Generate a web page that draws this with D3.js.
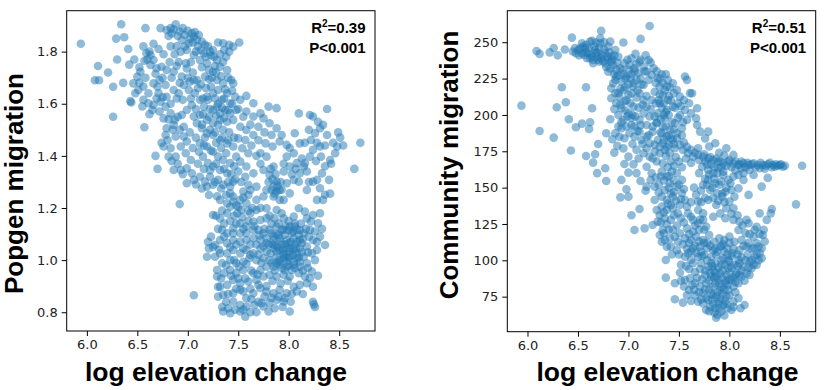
<!DOCTYPE html>
<html><head><meta charset="utf-8">
<script src="https://cdn.jsdelivr.net/npm/d3@7"></script>
<style>body{margin:0;background:#fff}svg{display:block}</style>
</head><body>
<svg id="c" width="826" height="390"></svg>
<script>
// ---- data: [log elevation change, migration] ----
const popgenPoints = [
[5.94,1.83],[6.34,1.905],[6.29,1.85],[6.37,1.855],[6.11,1.745],[6.08,1.69],[6.12,1.69],[6.21,1.72],[6.26,1.665],[6.30,1.77],
[6.26,1.55],[6.41,1.81],[6.36,1.68],[6.42,1.75],[6.47,1.77],[6.57,1.51],[6.43,1.61],[6.44,1.605],[6.58,1.89],[6.73,1.89],
[6.83,1.89],[6.84,1.87],[7.51,1.835],[6.68,1.40],[6.70,1.35],[6.92,1.215],[7.06,0.865],[8.71,1.45],[8.65,1.35],[8.38,1.58],
[8.54,1.44],[8.49,1.49],[8.51,1.47],[8.42,1.37],[8.41,1.255],[8.26,0.82],[8.25,0.83],[8.24,0.84],
[6.79,1.883],[6.86,1.886],[6.92,1.877],[6.97,1.864],[7.04,1.87],[7.06,1.858],[7.09,1.845],[7.14,1.838],[7.20,1.82],[7.30,1.835],
[7.41,1.826],[7.36,1.806],[7.25,1.806],[7.16,1.794],[7.01,1.832],[6.94,1.845],[6.89,1.82],[6.83,1.82],[6.99,1.806],[7.06,1.787],
[7.12,1.768],[7.19,1.755],[7.29,1.768],[7.32,1.742],[7.25,1.723],[7.17,1.704],[7.09,1.691],[7.02,1.685],[6.94,1.704],[6.86,1.723],
[6.79,1.73],[6.74,1.742],[6.69,1.736],[6.63,1.749],[6.59,1.794],[6.63,1.787],[6.56,1.82],[6.66,1.768],[6.53,1.723],[6.50,1.704],
[6.46,1.678],[6.51,1.653],[6.56,1.666],[6.61,1.64],[6.66,1.678],[6.72,1.691],[6.78,1.672],[6.71,1.64],[6.79,1.627],[6.86,1.653],
[6.91,1.64],[6.96,1.672],[7.01,1.653],[7.07,1.64],[7.12,1.615],[7.04,1.595],[6.99,1.576],[6.94,1.557],[6.87,1.538],[6.83,1.563],
[6.78,1.589],[6.73,1.608],[6.66,1.595],[6.61,1.602],[6.56,1.615],[6.65,1.576],[6.76,1.544],[6.79,1.506],[6.86,1.519],[6.78,1.48],
[6.88,1.474],[6.96,1.512],[6.96,1.474],[6.99,1.455],[6.93,1.436],[6.83,1.429],[6.76,1.436],[6.81,1.397],[6.88,1.397],[6.98,1.41],
[7.03,1.384],[6.99,1.352],[6.93,1.346],[6.86,1.346],[7.04,1.333],[6.99,1.295],[7.06,1.308],[7.12,1.32],[7.17,1.301],[7.22,1.32],
[7.19,1.282],[7.25,1.289],[7.30,1.308],[7.35,1.289],[7.42,1.282],[7.45,1.301],[7.39,1.333],[7.32,1.346],[7.25,1.359],[7.20,1.372],
[7.15,1.397],[7.11,1.416],[7.12,1.448],[7.19,1.436],[7.25,1.416],[7.30,1.397],[7.35,1.384],[7.42,1.372],[7.48,1.397],[7.45,1.436],
[7.39,1.448],[7.32,1.461],[7.25,1.48],[7.19,1.487],[7.14,1.506],[7.09,1.525],[7.06,1.551],[7.12,1.557],[7.19,1.538],[7.25,1.525],
[7.32,1.538],[7.39,1.531],[7.45,1.538],[7.52,1.512],[7.58,1.499],[7.65,1.48],[7.57,1.461],[7.50,1.467],[7.54,1.429],[7.60,1.41],
[7.52,1.378],[7.58,1.359],[7.65,1.333],[7.57,1.32],[7.50,1.34],[7.45,1.244],[7.52,1.231],[7.42,1.205],[7.49,1.18],[7.58,1.218],
[7.68,1.231],[7.75,1.244],[7.78,1.269],[7.85,1.282],[7.91,1.269],[7.88,1.301],[7.81,1.327],[7.75,1.346],[7.85,1.359],[7.95,1.34],
[8.01,1.359],[8.08,1.372],[8.15,1.359],[8.11,1.333],[8.05,1.308],[7.98,1.295],[8.10,1.301],[8.18,1.269],[8.28,1.308],[8.33,1.333],
[8.40,1.308],[8.31,1.276],[8.36,1.251],[8.28,1.231],[8.16,1.372],[8.21,1.397],[8.24,1.423],[8.31,1.436],[8.22,1.461],[8.26,1.487],
[8.31,1.506],[8.34,1.519],[8.29,1.531],[8.24,1.551],[8.21,1.557],[8.10,1.563],[8.06,1.487],[8.11,1.448],[8.05,1.41],[7.98,1.442],
[7.91,1.455],[7.88,1.506],[7.81,1.525],[7.88,1.583],[7.80,1.589],[7.75,1.544],[7.70,1.512],[7.77,1.448],[7.84,1.436],[7.72,1.41],
[7.78,1.397],[7.98,1.397],[8.32,1.397],[8.46,1.41],[8.41,1.384],[8.48,1.436],[8.24,1.301],[8.34,1.231],
[7.65,1.602],[7.72,1.563],[7.65,1.551],[7.58,1.57],[7.52,1.615],[7.47,1.627],[7.42,1.602],[7.45,1.678],[7.43,1.691],[7.39,1.64],
[7.34,1.615],[7.29,1.589],[7.32,1.563],[7.37,1.576],[7.42,1.563],[7.48,1.576],[7.25,1.64],[7.20,1.615],[7.16,1.589],[7.25,1.576],
[7.30,1.653],[7.35,1.678],[7.39,1.729],[7.29,1.691],[7.23,1.666],[7.19,1.627],
[7.11,1.864],[7.17,1.826],[7.22,1.80],[7.35,1.832],[7.45,1.819],[7.41,1.80],
[7.32,1.231],[7.39,1.218],[7.45,1.225],[7.50,1.205],[7.42,1.256],[7.55,1.263],[7.62,1.269],[7.68,1.282],[7.60,1.289],[7.53,1.192],
[7.68,1.192],[7.78,1.199],[7.88,1.192],[7.95,1.16],[8.05,1.167],[8.10,1.199],[8.16,1.186],[8.24,1.173],[8.31,1.18],[8.29,1.141],
[8.22,1.148],[7.78,1.16],[7.72,1.154],[7.95,1.231],[8.01,1.256],[7.91,1.231],[7.85,1.244],[7.88,1.263],
[7.25,1.173],[7.32,1.16],[7.39,1.18],[7.34,1.116],[7.39,1.103],[7.45,1.122],[7.52,1.141],[7.58,1.129],[7.65,1.148],[7.70,1.116],
[7.75,1.103],[7.81,1.116],[7.88,1.129],[7.95,1.116],[8.01,1.129],[8.08,1.116],[8.15,1.103],[8.21,1.116],[8.24,1.077],[8.31,1.09],
[8.36,1.058],[8.28,1.039],[8.23,1.026],[8.18,1.052],[8.11,1.077],[8.05,1.084],[7.98,1.077],[7.91,1.084],[7.85,1.077],[7.78,1.065],
[7.72,1.077],[7.65,1.084],[7.58,1.077],[7.52,1.071],[7.45,1.077],[7.39,1.065],[7.32,1.077],[7.27,1.058],[7.21,1.045],[7.19,1.013],
[7.27,1.013],[7.32,1.026],[7.39,1.026],[7.45,1.039],[7.52,1.026],[7.58,1.039],[7.65,1.026],[7.72,1.045],[7.78,1.032],[7.85,1.045],
[7.91,1.039],[7.98,1.045],[8.05,1.039],[8.11,1.045],[8.15,1.013],[8.08,1.007],[8.01,1.013],[7.95,1.007],[7.88,1.013],[7.81,1.0],
[7.75,1.007],[7.68,1.0],[7.61,1.007],[7.55,0.994],[7.48,0.988],[7.42,1.0],[7.34,0.988],[7.29,0.962],[7.36,0.95],[7.42,0.962],
[7.48,0.95],[7.55,0.962],[7.65,0.95],[7.72,0.962],[7.78,0.975],[7.85,0.975],[7.91,0.982],[7.98,0.975],[8.05,0.982],[8.11,0.975],
[8.18,0.988],[8.23,0.956],[8.16,0.937],[8.10,0.95],[8.01,0.937],[7.95,0.944],[7.88,0.937],[7.81,0.944],[7.75,0.937],[7.68,0.924],
[7.60,0.918],[7.52,0.911],[7.45,0.924],[7.39,0.905],[7.32,0.898],[7.30,0.86],[7.35,0.867],[7.45,0.873],[7.52,0.886],[7.58,0.854],
[7.65,0.873],[7.72,0.892],[7.78,0.879],[7.85,0.873],[7.91,0.886],[7.98,0.873],[8.05,0.898],[8.11,0.905],[8.18,0.911],[8.24,0.898],
[7.95,0.841],[7.88,0.847],[7.81,0.835],[7.75,0.822],[7.66,0.828],[7.58,0.822],[7.52,0.828],[7.45,0.841],[7.40,0.815],[7.35,0.803],
[7.42,0.796],[7.57,0.783],[7.52,0.803],[7.80,0.803],[7.86,0.815],[8.01,0.803],[7.96,0.854],[7.29,0.937],[7.30,0.898],
[7.83,1.103],[7.90,1.097],[7.96,1.097],[8.03,1.103],[8.10,1.097],[7.86,1.058],[7.93,1.058],[8.00,1.065],[8.06,1.058],[8.13,1.065],
[7.88,1.033],[7.95,1.026],[8.01,1.033],[8.08,1.026],[7.91,0.994],[7.98,0.994],[8.05,0.994],[8.11,0.994],[7.96,0.962],[8.03,0.962],
[7.93,1.116],[8.00,1.116],[8.06,1.129],[8.11,1.116],[7.85,1.09],[7.78,1.084],[7.75,1.052],[7.82,1.026],[7.88,0.988],[7.95,1.02],
[8.01,1.045],[7.52,1.103],[7.58,1.103],[7.65,1.116],[7.45,1.103],
[6.81,1.86],[6.88,1.905],[6.90,1.86],[6.95,1.89],[7.00,1.88],[7.02,1.85],[7.05,1.835],[7.07,1.875],[7.10,1.82],[7.13,1.805],
[6.97,1.82],[6.93,1.80],[6.87,1.79],[6.91,1.76],[6.98,1.755],[7.03,1.76],[7.08,1.80],[7.18,1.78],[7.23,1.785],[7.27,1.745],
[7.21,1.73],[7.14,1.74],[7.05,1.72],[6.99,1.735],[6.89,1.745],[6.82,1.76],[6.76,1.79],[6.71,1.81],[6.66,1.83],[6.62,1.80],
[6.60,1.77],[6.68,1.715],[6.75,1.70],[6.84,1.70],[6.92,1.68],[7.00,1.70],[7.13,1.675],[7.21,1.695],[7.33,1.705],[7.37,1.655],
[7.27,1.62],[7.34,1.585],[7.40,1.575],[7.44,1.60],[7.36,1.545],[7.30,1.52],[7.22,1.50],[7.17,1.47],[7.28,1.45],[7.33,1.43],
[7.38,1.41],[7.23,1.42],[7.16,1.44],[7.08,1.47],[7.02,1.49],[7.05,1.43],[7.10,1.37],[7.16,1.35],[7.22,1.345],[7.28,1.37],
[7.36,1.35],[7.43,1.33],[7.47,1.31],[7.40,1.30],[7.33,1.275],[7.27,1.30],[7.21,1.25],[7.14,1.275],[7.08,1.29],[6.95,1.33],
[6.90,1.37],[6.84,1.38],[6.74,1.45],[6.80,1.46],[6.85,1.50],[6.92,1.50],[6.90,1.55],[6.81,1.54],[6.72,1.57],[6.69,1.62],
[6.75,1.625],[6.83,1.60],[6.89,1.62],[6.95,1.615],[7.03,1.62],[7.08,1.58],[7.15,1.56],[6.58,1.70],[6.52,1.68],[6.48,1.64],
[6.55,1.59],[6.62,1.56],[6.52,1.74],[6.57,1.765],[6.70,1.665],
[7.80,1.30],[7.83,1.27],[7.86,1.255],[7.89,1.285],[7.84,1.31],[7.92,1.30],[7.87,1.33],[7.93,1.27],[7.82,1.35],[7.95,1.37],
[8.03,1.33],[8.07,1.35],[8.13,1.39],[8.18,1.34],[8.20,1.30],[7.72,1.37],[7.68,1.40],[7.63,1.44],[7.70,1.46],[7.62,1.52],
[7.55,1.55],[7.50,1.58],[7.58,1.63],[7.76,1.49],[7.83,1.48],[7.93,1.48],[8.01,1.43],[8.16,1.45],[8.20,1.50],[8.28,1.45],
[8.36,1.44],[8.38,1.48],[8.44,1.45],[8.27,1.38],[8.36,1.36],
[7.62,1.06],[7.68,1.06],[7.71,1.095],[7.66,1.13],[7.60,1.15],[7.55,1.12],[7.48,1.14],[7.42,1.15],[7.36,1.14],[7.30,1.12],
[7.36,1.09],[7.42,1.05],[7.48,1.06],[7.55,1.045],[7.62,1.02],[7.70,1.02],[7.73,0.99],[7.80,1.06],[7.76,1.12],[7.83,1.14],
[7.90,1.14],[7.97,1.13],[8.04,1.11],[8.08,1.07],[8.14,1.08],[8.17,1.12],[8.20,1.09],[8.26,1.11],[8.28,1.07],[8.33,1.12],
[8.19,1.03],[8.13,1.03],[8.07,1.045],[8.02,1.07],[7.97,1.06],[7.92,1.07],[7.88,1.10],[7.84,1.06],[7.89,1.05],[7.94,1.04],
[8.00,1.01],[8.04,1.02],[8.10,1.01],[8.06,0.97],[8.00,0.98],[7.93,0.97],[7.86,0.96],[7.83,0.99],[7.90,1.00],[7.97,1.01],
[8.14,0.96],[8.19,0.97],[8.26,1.00],[8.29,0.94],[7.99,0.92],[7.92,0.91],[7.84,0.92],[7.78,0.90],[7.70,0.905],[7.62,0.89],
[7.55,0.88],[7.48,0.89],[7.40,0.87],[7.33,0.93],[7.38,0.98],[7.46,1.00],[7.51,0.975],[7.58,0.985],[7.63,0.96],[7.69,0.945],
[7.57,0.93],[7.50,0.93],[7.43,0.94],[7.25,1.05],[7.23,1.09],[7.28,1.17],[7.34,1.19],[7.46,1.17],[7.54,1.165],[7.62,1.18],
[7.72,1.20],[7.81,1.17],[7.86,1.16],[7.93,1.18],[8.00,1.15],[8.06,1.14],[8.12,1.14],[8.18,1.16],[7.63,0.85],[7.70,0.84],
[7.76,0.86],[7.83,0.855],[7.90,0.86],[8.03,0.87],[8.08,0.88],[7.55,0.81],[7.62,0.80],[7.68,0.80],[7.73,0.835],[7.47,0.81],
[7.38,0.84],[7.34,0.82],[7.94,0.82],[8.02,0.84],[8.14,0.87],[8.21,0.93],[7.31,1.04],[7.20,1.07],
[7.18,1.66],[7.24,1.70],[7.28,1.72],[7.35,1.76],[7.26,1.78],[7.32,1.79],[7.38,1.78],[7.40,1.70],[7.44,1.65],[7.36,1.62],
[7.30,1.60],[7.22,1.58],[7.15,1.62],[7.10,1.66],[7.06,1.69],[7.14,1.52],[7.21,1.55],[7.28,1.555],[7.35,1.50],[7.41,1.49],
[7.46,1.47],[7.40,1.46],[7.34,1.47],[7.27,1.49],[7.46,1.36],[7.53,1.30],[7.55,1.24],[7.48,1.21],[7.38,1.25],[7.29,1.245],
[7.60,1.25],[7.64,1.20],[7.60,1.19]
];

const communityPoints = [
[5.94,206.4],[6.09,244],[6.12,242],[6.12,189],[6.26,184.4],[6.22,243],[6.26,246],[6.30,241],[6.37,245],[6.34,219],
[6.29,205.3],[6.38,208.7],[6.41,197],[6.43,175.5],[6.48,191.5],[6.54,194],[6.58,219],[6.61,190.4],[6.64,204.6],[6.62,195],
[6.58,171.8],[6.65,167.2],[6.67,173],[6.70,180],[6.69,160],[6.77,163.3],[6.78,154.6],[6.78,187.4],[6.84,183.3],[6.86,174.1],
[6.89,178.7],[6.93,155.3],[6.92,143.3],[6.98,148.9],[7.00,143.8],[6.96,166.3],[7.00,160.3],[7.00,171.3],[7.03,131],[7.06,120.9],
[7.11,135.3],[7.16,122],[7.24,124.3],[7.12,154.6],[7.17,147.9],[7.22,155.3],[7.26,150.7],[7.30,146.6],[7.32,157.6],[7.37,100.2],
[7.37,88.1],[7.46,73.2],[7.54,70.9],[7.51,91.5],[7.46,84.2],[8.72,165.1],[8.66,138.5],[8.38,156.7],[8.42,135.3],[8.37,127.8],
[8.41,132.3],[8.33,117.4],[8.29,109.4],[8.32,101.4],[8.15,69.3],[8.11,67],[7.88,62.4],[8.02,65.8],[7.21,261.2],[7.12,252.3],
[6.73,257.8],[6.44,253.2],[6.95,249.8],
[6.45,243.6],[6.50,244.7],[6.54,249.3],[6.57,245.9],[6.60,242.4],[6.63,241.3],[6.67,244.7],[6.70,240.1],[6.72,249.3],[6.77,242.4],
[6.80,237.8],[6.83,240.1],[6.87,244.7],[6.82,250.5],[6.72,252.8],[6.68,249.8],[6.62,250.5],[6.54,242.4],[6.59,239],[6.65,237.8],
[6.71,236.7],[6.77,235.6],[6.85,234.4],[6.88,231],[6.80,229.8],[6.65,235.6],[6.48,242.4],[6.52,245.9],[6.56,241.3],[6.68,242.4],
[6.73,239],[6.83,236.7],
[6.88,226.4],[6.85,221.8],[6.83,218.3],[6.87,214.9],[6.83,211.5],[6.88,208],[6.91,212.6],[6.95,217.2],[6.93,222.9],[6.98,226.4],
[7.01,231],[6.96,235.6],[7.03,239],[7.01,234.4],[7.06,229.8],[7.08,224.1],[7.05,219.5],[7.00,213.8],[6.96,209.2],[6.93,204.6],
[6.90,200],[6.95,196.6],[7.00,201.1],[7.05,205.7],[7.03,197.7],[6.98,192],[6.93,190.8],[6.87,187.4],[7.01,187.4],[7.06,192],
[7.11,196.6],[7.15,201.1],[7.18,205.7],[7.15,210.3],[7.11,214.9],[7.15,220.6],[7.20,224.1],[7.18,229.8],[7.15,233.3],[7.11,236.7],
[7.20,237.8],[7.25,232.1],[7.23,227.5],[7.29,225.2],[7.31,219.5],[7.26,216],[7.23,210.3],[7.21,198.9],[7.18,193.1],[7.11,188.5],
[7.06,185.1],[7.13,182.8],[7.18,185.1],[7.24,188.5],[7.28,194.3],[7.29,201.1],[7.31,208],[7.34,213.8],[7.38,219.5],[7.39,224.1],
[7.44,221.8],[7.48,217.2],[7.51,212.6],[7.49,208],[7.44,205.7],[7.39,210.3],[7.38,203.4],[7.36,197.7],[7.34,192],[7.33,187.4],
[7.38,185.1],[7.41,189.7],[7.46,194.3],[7.51,200],[7.56,203.4],[7.58,196.6],[7.53,190.8],[7.48,187.4],[7.44,182.8],[7.40,179.4],
[7.34,180.5],[7.29,182.8],[7.26,179.4],[7.21,180.5],[7.18,177.1],[7.15,173.6],[7.21,171.3],[7.26,174.8],[7.31,173.6],[7.36,175.9],
[7.41,173.6],[7.46,177.1],[7.51,179.4],[7.54,175.9],[7.59,173.6],[7.64,171.3],[7.69,172.5],[7.74,171.3],[7.79,170.2],[7.84,169],
[7.89,167.9],[7.94,166.7],[7.99,167.9],[8.04,166.7],[8.09,165.6],[8.14,166.7],[8.19,165.6],[8.24,166.7],[8.28,165.6],[8.33,165.6],
[8.38,166.1],[8.43,165.6],[8.48,165.1],[8.53,164.4],[8.50,165.6],[8.45,164.4],[8.30,163.3],[8.20,162.2],[8.12,163.3],[8.04,172.5],
[7.97,177.1],[7.86,180.5],[7.76,183.9],[7.71,188.5],[7.68,193.1],[7.67,197.7],[7.62,201.1],[7.60,208],[7.55,210.3],[7.63,214.9],
[7.68,204.6],[7.79,188.5],[7.80,178.3],[7.69,177.1],[7.73,164.4],[7.79,162.2],[7.84,159.9],[7.89,163.3],[7.94,158.7],[7.99,155.3],
[7.92,154.2],[7.86,153],[7.79,155.3],[7.74,151.9],[7.81,148.4],[7.88,146.1],[7.93,143.8],[7.96,147.2],[8.02,148.4],[8.09,149.5],
[8.05,143.8],[8.00,140.4],[8.19,145],[8.32,150.7],[8.14,155.3],[8.04,157.6],[8.09,158.7],[8.24,158.7],[7.69,140.4],[7.79,141.5],
[7.87,138.1],[7.91,132.3],[7.96,128.9],[8.04,127.8],[8.10,126.6],[8.19,125.5],[8.09,120.9],[8.16,118.6],[8.24,116.3],[8.27,111.7],
[7.34,166.7],[7.33,161],[7.38,157.6],[7.43,161],[7.48,159.9],[7.53,155.3],[7.48,150.7],[7.41,153],[7.36,148.4],[7.33,143.8],
[7.38,141.5],[7.44,143.8],[7.53,146.1],[7.56,141.5],[7.58,136.9],[7.51,138.1],[7.44,135.8],[7.38,134.6],[7.33,136.9],[7.31,131.2],
[7.36,128.9],[7.42,127.8],[7.49,132.3],[7.59,132.3],[7.64,127.8],[7.69,125.5],[7.74,127.8],[7.77,123.2],[7.70,120.9],[7.64,119.7],
[7.58,122],[7.51,118.6],[7.46,116.3],[7.41,115.1],[7.35,118.6],[7.33,112.8],[7.38,109.4],[7.42,109.4],[7.49,112.8],[7.56,115.1],
[7.62,114],[7.67,116.3],[7.74,114],[7.80,117.4],[7.85,112.8],[7.90,115.1],[7.95,114],[8.00,116.3],[8.05,112.8],[8.12,114],
[8.17,109.4],[8.24,108.3],[8.30,104.8],[8.25,102.5],[8.20,99.1],[8.27,96.8],[8.22,94.5],[8.17,91],[8.12,88.8],[8.07,91],
[8.14,95.6],[8.09,100.2],[8.03,104.8],[7.98,108.3],[7.91,109.4],[7.84,107.1],[7.78,108.3],[7.71,109.4],[7.64,108.3],[7.59,104.8],
[7.56,102.5],[7.62,100.2],[7.69,102.5],[7.75,103.7],[7.82,102.5],[7.87,103.7],[7.94,101.4],[8.00,99.1],[8.05,96.8],[7.99,94.5],
[7.92,96.8],[7.86,98],[7.79,95.6],[7.72,98],[7.84,93.3],[7.91,91],[7.97,89.9],[8.02,86.5],[7.96,84.2],[7.89,86.5],
[7.82,88.8],[7.76,89.9],[7.77,84.2],[7.84,81.9],[7.91,79.6],[7.99,79.6],[8.04,81.9],[8.09,84.2],[7.97,75],[7.91,73.9],
[7.84,76.2],[7.79,72.7],[7.74,77.3],[7.71,81.9],[7.66,84.2],[7.61,87.6],[7.56,86.5],[7.65,79.6],[7.60,79.6],[7.69,71.6],
[7.74,70.4],[7.81,68.1],[7.86,67],[7.94,69.3],[8.04,71.6],[7.92,64.7],[7.77,65.8],[8.32,108.3],
[7.97,135.8],[8.04,135.8],[8.17,127.8],[8.30,132.3],[8.25,121],[8.34,121],[7.69,134.6],[7.74,132.3],[7.84,130],
[7.18,164.4],[7.23,159.9],[7.18,150.7],[7.26,141.5],[7.28,134.6],[7.29,126.6],[7.34,120.9],[7.31,117.4],[7.36,114],
[7.58,224.1],[7.56,226.4],[7.61,215],
[7.88,106],[7.95,106],[8.02,103],[8.08,104],[7.86,92],[7.93,93],[8.00,92],[8.06,90],[7.90,84],[7.97,86],
[8.04,88],[7.85,88],[7.92,100],[7.99,100],[8.10,98],[7.82,98],[7.88,78],[7.95,80],[7.80,80],[7.84,70],
[7.90,72],[7.97,70],[8.12,102],[8.18,104],[8.22,100],[7.78,112],[7.70,113],[7.92,110],[8.00,112],
[7.76,168],[7.82,166],[7.92,164],[8.02,164],[8.10,166],[8.18,167],[8.26,164],[8.35,163],[8.40,167],[8.46,166],
[7.30,210],[7.33,205],[7.35,200],[7.28,195],[7.40,200],[7.37,192],[7.32,188],[7.42,184],[7.38,178],[7.45,180],
[7.27,222],[7.33,228],[7.36,217],[7.42,210],[7.46,205],
[6.95,228],[7.02,225],[7.05,222],[6.92,218],[6.98,210],[7.08,212],[6.93,195],[7.04,200],[7.10,205],[7.12,225],
[7.16,230],[7.08,235],
[6.47,246],[6.51,241],[6.55,247],[6.58,243],[6.61,246],[6.64,240],[6.66,247],[6.69,243],[6.71,246],[6.74,241],
[6.76,245],[6.79,240],[6.81,243],[6.84,238],[6.86,241],[6.89,236],[6.90,240],[6.75,237],[6.70,238],[6.62,239],
[6.78,233],[6.82,232],[6.86,228],[6.92,232],[6.58,248],[6.64,251],[6.76,250],[6.80,247],
[6.87,224],[6.90,227],[6.94,231],[6.97,225],[7.00,221],[7.03,228],[7.06,232],[7.10,229],[7.13,221],[7.09,217],
[7.03,215],[6.97,219],[6.90,215],[6.86,204],[6.92,207],[6.97,203],[7.02,208],[7.07,199],[7.12,193],[7.09,189],
[7.03,193],[6.99,199],[6.91,185],[6.96,184],[7.14,180],[7.20,186],[7.24,192],[7.22,204],[7.26,199],[7.14,207],
[7.18,213],[7.12,238],[7.17,241],[7.22,236],[6.99,238],[7.07,242],
[7.28,230],[7.31,225],[7.34,222],[7.37,228],[7.41,219],[7.45,215],[7.40,213],[7.35,208],[7.31,214],[7.27,208],
[7.32,197],[7.37,202],[7.43,195],[7.45,190],[7.40,186],[7.35,183],[7.31,178],[7.37,172],[7.42,168],[7.47,171],
[7.50,168],[7.45,165],[7.39,164],[7.28,168],[7.24,170],[7.48,184],[7.53,186],[7.55,181],[7.58,178],[7.62,176],
[7.66,174],[7.57,170],[7.62,167],[7.53,164],[7.49,198],[7.54,195],[7.52,206],
[7.70,169],[7.75,173],[7.81,171],[7.87,170],[7.91,168],[7.97,165],[8.00,169],[8.06,168],[8.12,168],[8.16,164],
[8.22,166],[8.31,167],[8.36,165],[8.42,164],[8.51,166],[8.55,165],[7.85,164],[7.78,166],[7.90,174],[7.95,172],
[7.35,155],[7.40,150],[7.45,147],[7.50,152],[7.55,149],[7.39,139],[7.45,131],[7.52,129],[7.48,124],[7.55,126],
[7.62,130],[7.66,124],[7.71,128],[7.75,121],[7.60,118],[7.54,111],[7.48,107],[7.43,104],[7.40,121],[7.32,126],
[7.35,133],[7.42,146],[7.30,152],[7.27,157],[7.62,140],[7.67,145],[7.72,140],[7.76,143],[7.83,150],[7.90,152],
[7.97,150],[8.01,153],[7.93,146],[7.84,143],[7.89,141],[7.76,156],[7.70,160],[7.80,159],[7.85,156],[7.95,140],
[8.02,132],[8.08,131],[8.13,124],[8.20,118],[8.27,123],[8.30,118],[8.35,113],
[7.60,112],[7.66,110],[7.72,106],[7.75,112],[7.81,110],[7.86,108],[7.94,111],[7.98,104],[8.04,108],[8.10,107],
[8.14,110],[8.19,112],[8.22,108],[8.27,104],[8.29,100],[8.24,97],[8.19,95],[8.16,100],[8.12,93],[8.08,96],
[8.02,95],[7.96,97],[7.89,95],[7.83,96],[7.78,100],[7.73,103],[7.67,105],[7.64,98],[7.60,94],[7.66,92],
[7.71,94],[7.76,93],[7.81,91],[7.87,89],[7.93,88],[8.00,87],[8.06,85],[8.10,90],[8.15,86],[8.20,90],
[7.98,83],[7.92,82],[7.86,84],[7.80,86],[7.73,87],[7.68,88],[7.63,83],[7.70,78],[7.76,80],[7.82,77],
[7.87,75],[7.93,77],[8.00,76],[8.06,78],[7.96,72],[7.89,70],[7.83,73],[7.77,74],[7.72,73],[7.66,76],
[7.58,76],[7.55,82],[7.52,86],[7.62,72],[7.80,65],[7.85,64],[7.90,67],[7.98,67],[8.04,68],[8.09,74],
[7.95,62],[7.87,60.5],
[7.04,180],[7.08,176],[7.10,170],[7.05,166],[7.08,160],[6.95,177],[6.90,192],[6.82,197],[7.40,158],[7.45,155],
[7.42,138],[7.47,141],[7.52,142],[7.38,125],[7.44,121],[7.50,104],[7.58,108],[7.62,106],[7.52,97],[7.57,96],
[7.65,150],[7.72,148],[7.78,152],[7.88,160],[7.94,161],[8.06,162],[8.14,160]
];

const xTicks = [6.0, 6.5, 7.0, 7.5, 8.0, 8.5];
const popgenTicks = [0.8, 1.0, 1.2, 1.4, 1.6, 1.8];
const communityTicks = [75, 100, 125, 150, 175, 200, 225, 250];
const panelTitles = ["Popgen migration", "Community migration"];
const r2Labels = ["0.39", "0.51"];
const pLabel = "P<0.001";
const xLabel = "log elevation change";

// ---- drawing ----
const svg = d3.select("#c");
const panels = [
  {pts: popgenPoints, ticks: popgenTicks, fmt: d3.format(".1f"), title: panelTitles[0], r2: r2Labels[0],
   box: {l: 66.7, r: 375, t: 10.7, b: 331}, yDom: [0.728, 1.957], ylx: 22.5, yly: 183.5, xlx: 216},
  {pts: communityPoints, ticks: communityTicks, fmt: d3.format("d"), title: panelTitles[1], r2: r2Labels[1],
   box: {l: 507.3, r: 815.7, t: 10.7, b: 331.7}, yDom: [50.9, 271.7], ylx: 458, yly: 165, xlx: 667.5}
];

panels.forEach(p => {
  const x = d3.scaleLinear().domain([5.80, 8.855]).range([p.box.l, p.box.r]);
  const y = d3.scaleLinear().domain(p.yDom).range([p.box.b, p.box.t]);
  const g = svg.append("g");

  g.append("g").selectAll("circle").data(p.pts).join("circle")
    .attr("cx", d => x(d[0])).attr("cy", d => y(d[1])).attr("r", 4.3)
    .attr("fill", "#1f77b4").attr("fill-opacity", 0.5);

  const xa = g.append("g").attr("transform", `translate(0,${p.box.b})`)
    .call(d3.axisBottom(x).tickValues(xTicks).tickFormat(d3.format(".1f")).tickSize(5).tickPadding(4));
  const ya = g.append("g").attr("transform", `translate(${p.box.l},0)`)
    .call(d3.axisLeft(y).tickValues(p.ticks).tickFormat(p.fmt).tickSize(5).tickPadding(4));
  [xa, ya].forEach(a => {
    a.select(".domain").remove();
    a.selectAll("line").attr("stroke", "#000").attr("stroke-width", 1);
    a.selectAll("text").attr("font-family", "DejaVu Sans").attr("font-size", 13).attr("fill", "#222");
  });

  g.append("rect").attr("x", p.box.l).attr("y", p.box.t)
    .attr("width", p.box.r - p.box.l).attr("height", p.box.b - p.box.t)
    .attr("fill", "none").attr("stroke", "#000").attr("stroke-width", 1);

  const ann = g.append("text").attr("x", p.box.r - 9.5).attr("y", 33.3).attr("text-anchor", "end")
    .attr("font-family", "Liberation Sans, Arial, sans-serif").attr("font-weight", "bold").attr("font-size", 15);
  ann.append("tspan").text("R");
  ann.append("tspan").attr("font-size", 10).attr("dy", -6).text("2");
  ann.append("tspan").attr("dy", 6).text("=" + p.r2);
  g.append("text").attr("x", p.box.r - 9.5).attr("y", 53.3).attr("text-anchor", "end")
    .attr("font-family", "Liberation Sans, Arial, sans-serif").attr("font-weight", "bold").attr("font-size", 15)
    .text(pLabel);

  g.append("text").attr("x", p.xlx).attr("y", 381).attr("text-anchor", "middle")
    .attr("font-family", "Liberation Sans, Arial, sans-serif").attr("font-weight", "bold").attr("font-size", 26.5)
    .text(xLabel);
  g.append("text").attr("transform", `translate(${p.ylx},${p.yly}) rotate(-90)`).attr("text-anchor", "middle")
    .attr("font-family", "Liberation Sans, Arial, sans-serif").attr("font-weight", "bold").attr("font-size", 26)
    .text(p.title);
});
</script>
</body></html>
